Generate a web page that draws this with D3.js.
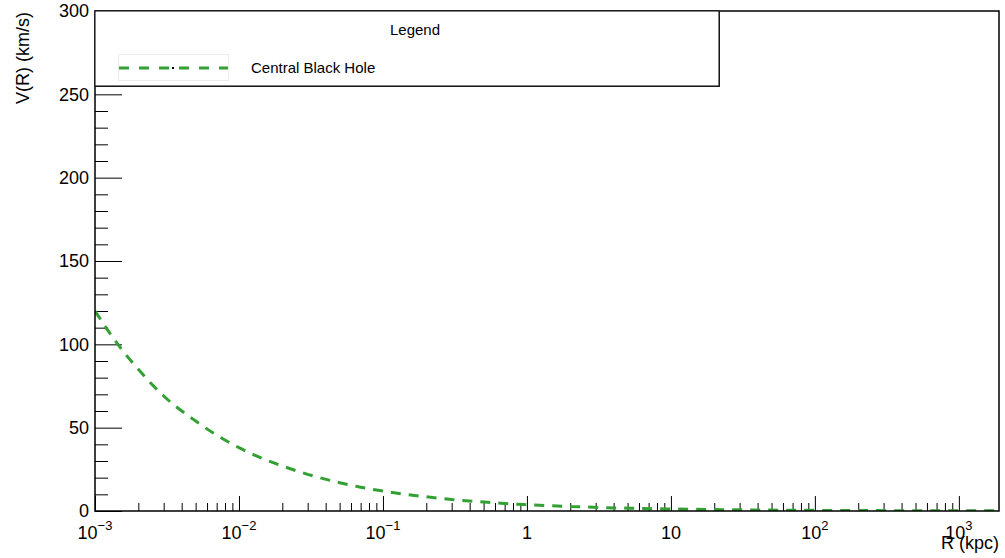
<!DOCTYPE html>
<html>
<head>
<meta charset="utf-8">
<script src="https://cdn.jsdelivr.net/npm/d3@7"></script>
<style>
  html, body { margin: 0; padding: 0; background: #fff; }
  svg { display: block; font-family: "Liberation Sans", Arial, Helvetica, sans-serif; }
</style>
</head>
<body>
<svg id="chart" width="1005" height="558"></svg>
<script>
// Rotation curve of the central black hole component
const radiusKpc = [0.001, 0.0015, 0.002, 0.003, 0.005, 0.007, 0.01, 0.015, 0.02, 0.03, 0.05, 0.07,
                   0.1, 0.15, 0.2, 0.3, 0.5, 0.7, 1, 2, 5, 10, 20, 50, 100, 200, 500, 1000, 1900];
const velocityKms = [120, 98, 85, 69, 54, 45.5, 38, 31, 27, 22, 17, 14.3,
                     12, 9.8, 8.5, 6.9, 5.4, 4.5, 3.8, 2.7, 1.7, 1.2, 0.85, 0.54, 0.38, 0.27, 0.17, 0.12, 0.09];

const seriesName = "Central Black Hole";
const legendTitle = "Legend";
const xTitle = "R (kpc)";
const yTitle = "V(R) (km/s)";

const xDomain = [0.001, 1900];
const yDomain = [0, 300];
const xMajorTicks = [0.001, 0.01, 0.1, 1, 10, 100, 1000];
const xTickLabels = ["10^−3", "10^−2", "10^−1", "1", "10", "10^2", "10^3"];
const yMajorTicks = [0, 50, 100, 150, 200, 250, 300];
const yTickLabels = ["0", "50", "100", "150", "200", "250", "300"];

const svg = d3.select("#chart");
const margin = { left: 95, right: 6, top: 11, bottom: 47 };
const W = 1005, H = 558;
const x0 = margin.left, x1 = W - margin.right, y0 = margin.top, y1 = H - margin.bottom;

const x = d3.scaleLog().domain(xDomain).range([x0, x1]);
const y = d3.scaleLinear().domain(yDomain).range([y1, y0]);

const lineColor = "#33a033";

// minor tick values: 2..9 within each decade, and every 10 km/s on y
const xMinor = [];
for (let e = -3; e <= 3; e++) {
  for (let m = 2; m <= 9; m++) {
    const v = m * Math.pow(10, e);
    if (v < xDomain[1]) xMinor.push(v);
  }
}
const yMinor = d3.range(0, 301, 10).filter(v => v % 50 !== 0);

// x axis ticks (drawn inward)
svg.append("g")
  .attr("transform", `translate(0,${y1})`)
  .call(d3.axisTop(x).tickValues(xMajorTicks).tickSize(15).tickFormat(""))
  .call(g => g.select(".domain").remove())
  .selectAll("line").attr("stroke", "#000").attr("stroke-width", 1);
svg.append("g")
  .attr("transform", `translate(0,${y1})`)
  .call(d3.axisTop(x).tickValues(xMinor).tickSize(8).tickFormat(""))
  .call(g => g.select(".domain").remove())
  .selectAll("line").attr("stroke", "#000").attr("stroke-width", 1);

// y axis ticks (drawn inward)
svg.append("g")
  .attr("transform", `translate(${x0},0)`)
  .call(d3.axisRight(y).tickValues(yMajorTicks).tickSize(27).tickFormat(""))
  .call(g => g.select(".domain").remove())
  .selectAll("line").attr("stroke", "#000").attr("stroke-width", 1);
svg.append("g")
  .attr("transform", `translate(${x0},0)`)
  .call(d3.axisRight(y).tickValues(yMinor).tickSize(13).tickFormat(""))
  .call(g => g.select(".domain").remove())
  .selectAll("line").attr("stroke", "#000").attr("stroke-width", 1);

// curve
const clipId = "plotClip";
svg.append("clipPath").attr("id", clipId)
  .append("rect").attr("x", x0).attr("y", y0).attr("width", x1 - x0).attr("height", y1 - y0);

const pts = radiusKpc.map((r, i) => [r, velocityKms[i]]);
const line = d3.line()
  .x(d => x(d[0]))
  .y(d => y(d[1]))
  .curve(d3.curveMonotoneX);

svg.append("path")
  .attr("clip-path", `url(#${clipId})`)
  .attr("d", line(pts))
  .attr("fill", "none")
  .attr("stroke", lineColor)
  .attr("stroke-width", 3)
  .attr("stroke-dasharray", "10,8");

// frame
svg.append("rect")
  .attr("x", x0).attr("y", y0)
  .attr("width", x1 - x0).attr("height", y1 - y0)
  .attr("fill", "none").attr("stroke", "#000").attr("stroke-width", 1.5);

// y tick labels
svg.append("g").selectAll("text")
  .data(yMajorTicks)
  .join("text")
  .attr("x", x0 - 6)
  .attr("y", d => y(d))
  .attr("dy", "0.36em")
  .attr("text-anchor", "end")
  .attr("font-size", 18)
  .attr("fill", "#000")
  .text((d, i) => yTickLabels[i]);

// x tick labels, with exponents as superscripts
const xl = svg.append("g").selectAll("text")
  .data(xMajorTicks)
  .join("text")
  .attr("x", d => x(d))
  .attr("y", 539)
  .attr("text-anchor", "middle")
  .attr("font-size", 18)
  .attr("fill", "#000");
xl.each(function(d, i) {
  const parts = xTickLabels[i].split("^");
  const t = d3.select(this);
  t.append("tspan").text(parts[0]);
  if (parts.length > 1) {
    t.append("tspan").attr("dy", -9).attr("font-size", 13).text(parts[1]);
  }
});

// axis titles
svg.append("text")
  .attr("x", x1).attr("y", 549)
  .attr("text-anchor", "end")
  .attr("font-size", 18)
  .text(xTitle);

svg.append("text")
  .attr("transform", `translate(29,${y0 + 1}) rotate(-90)`)
  .attr("text-anchor", "end")
  .attr("font-size", 18)
  .text(yTitle);

// legend box
const lg = { x: x0, y: y0, w: 624, h: 75 };
svg.append("rect")
  .attr("x", lg.x + 1).attr("y", lg.y + 1)
  .attr("width", lg.w).attr("height", lg.h)
  .attr("fill", "#333");
svg.append("rect")
  .attr("x", lg.x).attr("y", lg.y)
  .attr("width", lg.w).attr("height", lg.h)
  .attr("fill", "#fff").attr("stroke", "#000").attr("stroke-width", 1);

svg.append("text")
  .attr("x", 415).attr("y", 30)
  .attr("dy", "0.36em")
  .attr("text-anchor", "middle")
  .attr("font-size", 15)
  .text(legendTitle);

svg.append("rect")
  .attr("x", 118.5).attr("y", 54.5)
  .attr("width", 110).attr("height", 26)
  .attr("fill", "none").attr("stroke", "#ececec").attr("stroke-width", 1);

svg.append("line")
  .attr("x1", 119).attr("x2", 228)
  .attr("y1", 68).attr("y2", 68)
  .attr("stroke", lineColor)
  .attr("stroke-width", 3)
  .attr("stroke-dasharray", "10,10");

svg.append("rect")
  .attr("x", 172).attr("y", 67)
  .attr("width", 2).attr("height", 2)
  .attr("fill", "#000");

svg.append("text")
  .attr("x", 251).attr("y", 68)
  .attr("dy", "0.36em")
  .attr("font-size", 15)
  .text(seriesName);
</script>
</body>
</html>
